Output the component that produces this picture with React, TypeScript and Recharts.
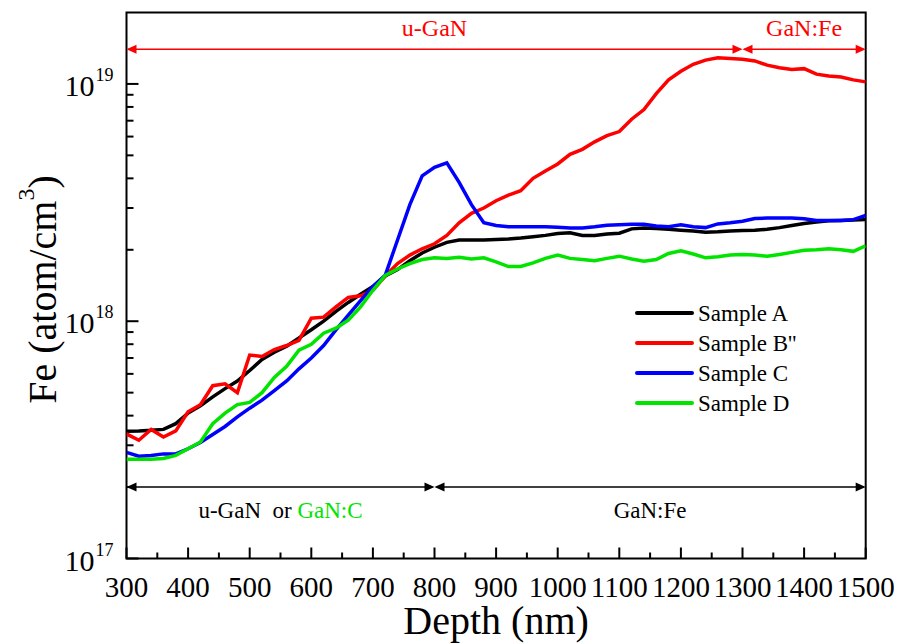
import React from "react";
import {
  LineChart,
  Line,
  XAxis,
  YAxis,
  Legend,
  ReferenceArea,
  ReferenceLine,
} from "recharts";

const FONT = "Liberation Serif";

// depth grid (nm)
const depths = [
  300, 320, 340, 360, 380, 400, 420, 440, 460, 480, 500, 520, 540, 560, 580,
  600, 620, 640, 660, 680, 700, 720, 740, 760, 780, 800, 820, 840, 860, 880,
  900, 920, 940, 960, 980, 1000, 1020, 1040, 1060, 1080, 1100, 1120, 1140,
  1160, 1180, 1200, 1220, 1240, 1260, 1280, 1300, 1320, 1340, 1360, 1380,
  1400, 1420, 1440, 1460, 1480, 1500,
];

const sampleA = [
  3.44e17, 3.45e17, 3.47e17, 3.5e17, 3.7e17, 4.1e17, 4.4e17, 4.8e17, 5.2e17,
  5.6e17, 6.2e17, 6.9e17, 7.4e17, 7.85e17, 8.5e17, 9.2e17, 1.0e18, 1.1e18,
  1.2e18, 1.3e18, 1.4e18, 1.55e18, 1.65e18, 1.8e18, 1.94e18, 2.05e18, 2.15e18,
  2.2e18, 2.2e18, 2.2e18, 2.21e18, 2.22e18, 2.24e18, 2.27e18, 2.3e18, 2.34e18,
  2.36e18, 2.3e18, 2.3e18, 2.33e18, 2.35e18, 2.45e18, 2.47e18, 2.46e18,
  2.44e18, 2.42e18, 2.4e18, 2.37e18, 2.38e18, 2.4e18, 2.41e18, 2.42e18,
  2.44e18, 2.48e18, 2.53e18, 2.58e18, 2.62e18, 2.65e18, 2.66e18, 2.67e18,
  2.68e18,
];

const sampleB = [
  3.35e17, 3.15e17, 3.5e17, 3.25e17, 3.45e17, 4.15e17, 4.45e17, 5.35e17,
  5.45e17, 5.0e17, 7.2e17, 7.1e17, 7.6e17, 7.9e17, 8.3e17, 1.03e18, 1.04e18,
  1.15e18, 1.26e18, 1.28e18, 1.35e18, 1.55e18, 1.75e18, 1.9e18, 2.02e18,
  2.12e18, 2.3e18, 2.6e18, 2.85e18, 3.0e18, 3.22e18, 3.4e18, 3.55e18, 4.0e18,
  4.3e18, 4.6e18, 5.05e18, 5.3e18, 5.7e18, 6.05e18, 6.3e18, 7.1e18, 7.8e18,
  9.1e18, 1.04e19, 1.13e19, 1.21e19, 1.26e19, 1.29e19, 1.28e19, 1.27e19,
  1.25e19, 1.2e19, 1.17e19, 1.15e19, 1.16e19, 1.1e19, 1.08e19, 1.07e19,
  1.04e19, 1.02e19,
];

const sampleC = [
  2.8e17, 2.7e17, 2.72e17, 2.76e17, 2.76e17, 2.9e17, 3.08e17, 3.33e17, 3.6e17,
  3.95e17, 4.3e17, 4.65e17, 5.1e17, 5.6e17, 6.3e17, 7.0e17, 7.9e17, 9.2e17,
  1.06e18, 1.22e18, 1.4e18, 1.56e18, 2.2e18, 3.1e18, 4.1e18, 4.45e18, 4.65e18,
  3.85e18, 3.1e18, 2.6e18, 2.53e18, 2.5e18, 2.5e18, 2.5e18, 2.5e18, 2.49e18,
  2.47e18, 2.47e18, 2.5e18, 2.54e18, 2.55e18, 2.56e18, 2.56e18, 2.52e18,
  2.5e18, 2.55e18, 2.5e18, 2.48e18, 2.57e18, 2.6e18, 2.64e18, 2.71e18,
  2.72e18, 2.72e18, 2.72e18, 2.7e18, 2.66e18, 2.66e18, 2.66e18, 2.68e18,
  2.79e18,
];

const sampleD = [
  2.62e17, 2.62e17, 2.62e17, 2.64e17, 2.72e17, 2.9e17, 3.1e17, 3.7e17, 4.1e17,
  4.45e17, 4.55e17, 5.0e17, 5.8e17, 6.45e17, 7.55e17, 8.0e17, 8.9e17, 9.35e17,
  1.01e18, 1.15e18, 1.35e18, 1.56e18, 1.66e18, 1.75e18, 1.82e18, 1.85e18,
  1.84e18, 1.86e18, 1.83e18, 1.85e18, 1.78e18, 1.7e18, 1.7e18, 1.76e18,
  1.84e18, 1.9e18, 1.84e18, 1.82e18, 1.8e18, 1.84e18, 1.88e18, 1.83e18,
  1.79e18, 1.82e18, 1.93e18, 1.98e18, 1.92e18, 1.85e18, 1.87e18, 1.9e18,
  1.91e18, 1.9e18, 1.88e18, 1.91e18, 1.95e18, 1.99e18, 2.0e18, 2.02e18, 2.0e18,
  1.97e18, 2.08e18,
];

const xTicks = [
  300, 350, 400, 450, 500, 550, 600, 650, 700, 750, 800, 850, 900, 950, 1000,
  1050, 1100, 1150, 1200, 1250, 1300, 1350, 1400, 1450, 1500,
];

const yTicks = [
  1e17, 2e17, 3e17, 4e17, 5e17, 6e17, 7e17, 8e17, 9e17, 1e18, 2e18, 3e18, 4e18,
  5e18, 6e18, 7e18, 8e18, 9e18, 1e19,
];

// layer annotations (depth ranges)
const topRegions = [
  { from: 300, to: 1300, label: "u-GaN" },
  { from: 1300, to: 1500, label: "GaN:Fe" },
];
const bottomRegions = [
  { from: 300, to: 800, label: "u-GaN  or ", extra: "GaN:C" },
  { from: 800, to: 1500, label: "GaN:Fe", extra: "" },
];
const topLevel = 1.4e19;
const bottomLevel = 2e17;

const GREEN = "#00e400";

const rows = depths.map((d, i) => ({
  depth: d,
  a: sampleA[i],
  b: sampleB[i],
  c: sampleC[i],
  d: sampleD[i],
}));

// small serif text is drawn at 40px and scaled down (smaller sizes fell back to a sans face)
function SerifText(props: any) {
  const { x, y, size, anchor = "start", fill = "#000", children } = props;
  return (
    <text
      transform={`translate(${x} ${y}) scale(${size / 40})`}
      x={0}
      y={0}
      fontSize={40}
      fontFamily={FONT}
      textAnchor={anchor}
      fill={fill}
      style={{ whiteSpace: "pre" }}
    >
      {children}
    </text>
  );
}

function YTick(props: any) {
  const { x, y, payload } = props;
  const lg = Math.log10(payload.value);
  const exp = Math.round(lg);
  const major = Math.abs(lg - exp) < 1e-6;
  return (
    <g>
      <line x1={x} x2={x + (major ? 12 : 7)} y1={y} y2={y} stroke="#000" strokeWidth={2} />
      {major && (
        <g>
          <SerifText x={x - 32} y={y + 12} size={30} anchor="end">10</SerifText>
          <SerifText x={x - 13} y={y - 3} size={18} anchor="end">{String(exp)}</SerifText>
        </g>
      )}
    </g>
  );
}

function XTick(props: any) {
  const { x, y, payload } = props;
  const major = payload.value % 100 === 0;
  return (
    <g>
      <line x1={x} x2={x} y1={y} y2={y - (major ? 11 : 6)} stroke="#000" strokeWidth={2} />
      {major && (
        <SerifText x={x} y={y + 38} size={29} anchor="middle">
          {String(payload.value)}
        </SerifText>
      )}
    </g>
  );
}

function arrowShape(color: string, label: string, extra: string, above: boolean) {
  return (p: any) => {
    const { x1, x2, y1 } = p;
    const y = y1;
    const h = 10;
    const w = 4.5;
    return (
      <g>
        <line x1={x1 + 2} x2={x2 - 2} y1={y} y2={y} stroke={color} strokeWidth={1.5} />
        <polygon points={`${x1},${y} ${x1 + h},${y - w} ${x1 + h},${y + w}`} fill={color} />
        <polygon points={`${x2},${y} ${x2 - h},${y - w} ${x2 - h},${y + w}`} fill={color} />
        <SerifText
          x={(x1 + x2) / 2}
          y={above ? y - 13 : y + 31}
          size={above ? 24 : 23}
          anchor="middle"
          fill={color}
        >
          {label}
          {extra && <tspan fill={GREEN}>{extra}</tspan>}
        </SerifText>
      </g>
    );
  };
}

function renderYLabel(props: any) {
  const vb = props.viewBox || { x: 0, y: 12.5, width: 126.5, height: 546 };
  const cx = vb.x + 42;
  const cy = vb.y + vb.height / 2 + 4;
  return (
    <text
      x={cx}
      y={cy}
      transform={`rotate(-90 ${cx} ${cy})`}
      textAnchor="middle"
      dominantBaseline="central"
      fontSize={40}
      fill="#000"
      fontFamily={FONT}
    >
      Fe (atom/cm
      <tspan fontSize={24} dy={-16}>3</tspan>
      <tspan dy={16}>)</tspan>
    </text>
  );
}

function renderXLabel(props: any) {
  const vb = props.viewBox || { x: 126.5, y: 558.5, width: 739.2, height: 84.5 };
  return (
    <text
      x={vb.x + vb.width / 2}
      y={vb.y + 75}
      textAnchor="middle"
      fontSize={40}
      fill="#000"
      fontFamily={FONT}
    >
      Depth (nm)
    </text>
  );
}

function LegendBox(props: any) {
  const items = props.payload || [];
  return (
    <svg width={220} height={items.length * 30} style={{ display: "block" }}>
      {items.map((it: any, i: number) => (
        <g key={it.value}>
          <line
            x1={2}
            x2={57}
            y1={15 + i * 30}
            y2={15 + i * 30}
            stroke={it.color}
            strokeWidth={4}
            strokeLinecap="round"
          />
          <SerifText x={63} y={23 + i * 30} size={23}>
            {it.value}
          </SerifText>
        </g>
      ))}
    </svg>
  );
}

export default function App() {
  return (
    <div style={{ position: "absolute", left: 0, top: 0, width: 899, height: 643, background: "#fff" }}>
      <LineChart
        width={899}
        height={643}
        data={rows}
        margin={{ top: 12.5, right: 33.3, bottom: 0, left: 0 }}
      >
        <XAxis
          type="number"
          dataKey="depth"
          domain={[300, 1500]}
          ticks={xTicks}
          interval={0}
          allowDataOverflow
          axisLine={false}
          tickLine={false}
          tickSize={0}
          tickMargin={0}
          height={84.5}
          tick={<XTick />}
          label={{ content: renderXLabel }}
        />
        <YAxis
          scale="log"
          domain={[1e17, 2e19]}
          ticks={yTicks}
          interval={0}
          allowDataOverflow
          axisLine={false}
          tickLine={false}
          tickSize={0}
          tickMargin={0}
          width={126.5}
          tick={<YTick />}
          label={{ content: renderYLabel }}
        />
        <ReferenceArea
          x1={300}
          x2={1500}
          y1={1e17}
          y2={2e19}
          fill="none"
          stroke="#000"
          strokeWidth={2}
          fillOpacity={0}
          ifOverflow="visible"
        />
        {topRegions.map((r) => (
          <ReferenceLine
            key={"t" + r.from}
            segment={[
              { x: r.from, y: topLevel },
              { x: r.to, y: topLevel },
            ]}
            shape={arrowShape("#ff0000", r.label, "", true)}
          />
        ))}
        {bottomRegions.map((r) => (
          <ReferenceLine
            key={"b" + r.from}
            segment={[
              { x: r.from, y: bottomLevel },
              { x: r.to, y: bottomLevel },
            ]}
            shape={arrowShape("#000", r.label, r.extra, false)}
          />
        ))}
        <Line type="linear" dataKey="a" name="Sample A" stroke="#000" strokeWidth={3.5} dot={false} isAnimationActive={false} />
        <Line type="linear" dataKey="b" name="Sample B''" stroke="#ff0000" strokeWidth={3.5} dot={false} isAnimationActive={false} />
        <Line type="linear" dataKey="c" name="Sample C" stroke="#0000ff" strokeWidth={3.5} dot={false} isAnimationActive={false} />
        <Line type="linear" dataKey="d" name="Sample D" stroke={GREEN} strokeWidth={3.5} dot={false} isAnimationActive={false} />
        <Legend
          layout="vertical"
          align="center"
          verticalAlign="middle"
          content={<LegendBox />}
          wrapperStyle={{ position: "absolute", left: 635, top: 298, width: 220 }}
        />
      </LineChart>
    </div>
  );
}
